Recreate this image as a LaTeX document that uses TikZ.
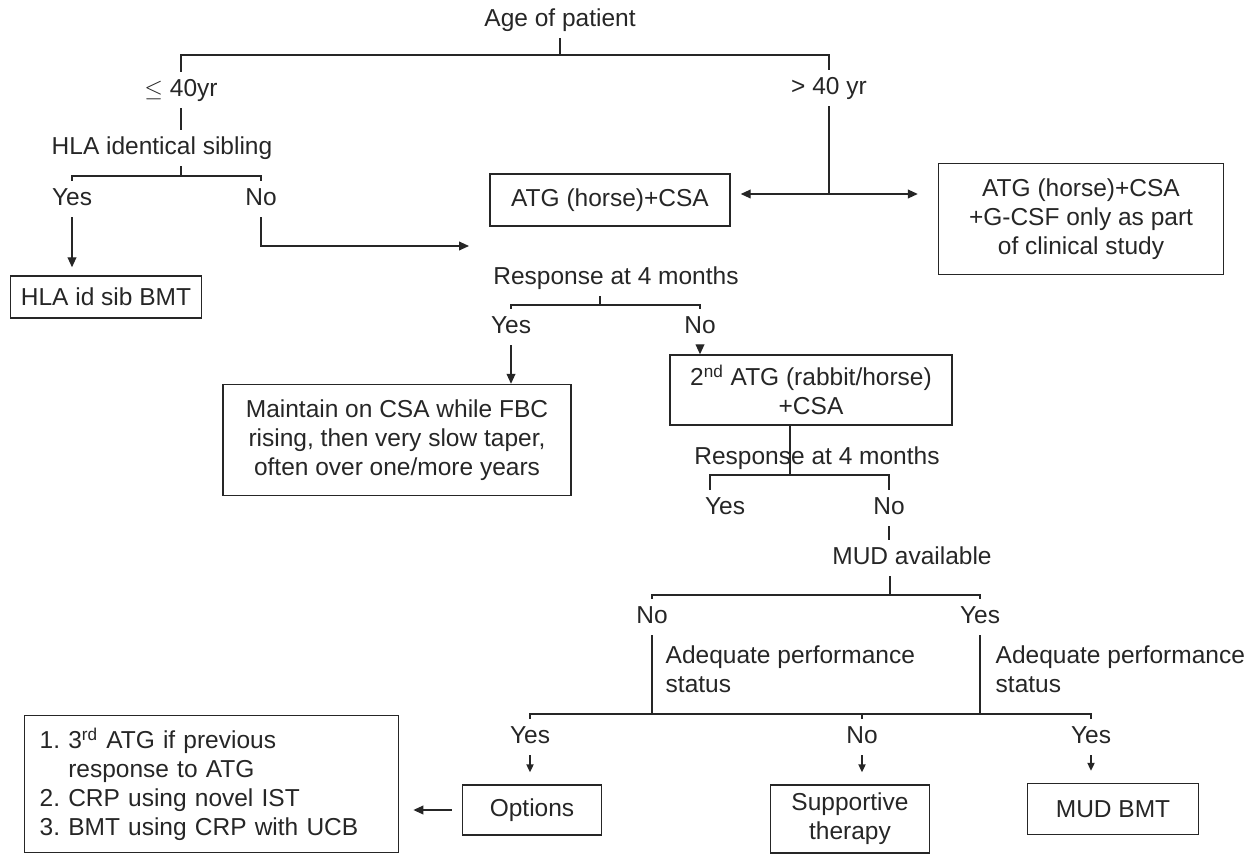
\documentclass[tikz,border=0pt]{standalone}
\usepackage{fontspec}
\setmainfont{Liberation Sans}
\usetikzlibrary{arrows.meta,calc}
\tikzset{
	lbl/.style={inner sep=3pt, text height=8.8pt, text depth=2.6pt},
	box/.style={draw, align=center, inner sep=2pt},
	arr/.style={-{Triangle[length=5pt,width=4.4pt]}},
	tick/.style={-{Triangle[length=4pt,width=3.6pt]}},
}

\begin{document}
\begin{tikzpicture}[x=0.5pt, y=-0.5pt, line width=0.7pt, color=black!85, font=\fontsize{12.25}{14.5}\selectfont]
			%%%%% START %%%%%
			\useasboundingbox (0,0) rectangle (1252,855);
			
			\node[lbl] (age) at (560,20) {Age of patient};
			\node[lbl] (le40) at (181,90) {$\leq$ 40yr};
			\node[lbl] (gt40) at (829,88) {> 40 yr};
			\coordinate (j1) at (560,55);
			\draw (age.south) -- (j1);
			\draw (le40.north) |- (j1) -| (gt40.north);
			
			\node[lbl] (hla) at (162,148) {HLA identical sibling};
			\draw (le40.south) -- (le40.south |- hla.north);
			\coordinate (j2) at (181,176);
			\node[lbl] (yes1) at (72,199) {Yes};
			\node[lbl] (no1) at (261,199) {No};
			\draw (hla.south -| j2) -- (j2);
			\draw (yes1.north) |- (j2) -| (no1.north);
			
			\node[box, minimum width=95.5pt, minimum height=21pt] (hlabmt) at (106,297) {HLA id sib BMT};
			\draw[arr, shorten >=4pt] (yes1.south) -- (yes1.south |- hlabmt.north);
			\coordinate (t1) at (469,246);
			\draw[arr] (no1.south) |- (t1);
			
			\node[box, minimum width=120pt, minimum height=26pt] (atg) at (610,200) {ATG (horse)+CSA};
			\node[box, minimum width=142.5pt, minimum height=55.5pt] (atggcsf) at (1081,219) {ATG (horse)+CSA\\+G-CSF only as part\\of clinical study};
			\coordinate (j3) at (829,194);
			\draw (gt40.south) -- (j3);
			\draw[arr, shorten >=5pt] (j3) -- (atg.east |- j3);
			\draw[arr, shorten >=10pt] (j3) -- (atggcsf.west |- j3);
			
			\node[lbl] (resp1) at (616,278) {Response at 4 months};
			\coordinate (j4) at (600,305);
			\node[lbl] (yes2) at (511,327) {Yes};
			\node[lbl] (no2) at (700,327) {No};
			\draw (resp1.south -| j4) -- (j4);
			\draw (yes2.north) |- (j4) -| (no2.north);
			
			\node[box, minimum width=174pt, minimum height=55.5pt] (maintain) at (397,440) {Maintain on CSA while FBC\\rising, then very slow taper,\\often over one/more years};
			\node[box, minimum width=141pt, minimum height=35pt] (atg2) at (811,390) {2\textsuperscript{nd} ATG (rabbit/horse)\\+CSA};
			\draw[arr] (yes2.south) -- (yes2.south |- maintain.north);
			\draw[arr] (no2.south) -- (no2.south |- atg2.north);
			
			\node[lbl] (resp2) at (817,458) {Response at 4 months};
			\coordinate (j5) at (790,475);
			\node[lbl] (yes3) at (725,508) {Yes};
			\node[lbl] (no3) at (889,508) {No};
			\draw (atg2.south -| j5) -- (j5);
			\draw ($(yes3.north)+(-15,0)$) |- (j5) -| (no3.north);
			
			\node[lbl] (mud) at (912,558) {MUD available};
			\draw (no3.south) -- (no3.south |- mud.north);
			\coordinate (j6) at (890,595);
			\node[lbl] (no4) at (652,617) {No};
			\node[lbl] (yes4) at (980,617) {Yes};
			\draw (mud.south -| j6) -- (j6);
			\draw (no4.north) |- (j6) -| (yes4.north);
			
			\node[align=left, anchor=north west, inner sep=0pt] (ade1) at (665,645) {Adequate performance\\status};
			\node[align=left, anchor=north west, inner sep=0pt] (ade2) at (995,645) {Adequate performance\\status};
			
			\coordinate (j7) at (652,714);
			\coordinate (j8) at (980,714);
			\node[lbl] (yes5) at (530,737) {Yes};
			\node[lbl] (no5) at (862,737) {No};
			\node[lbl] (yes6) at (1091,737) {Yes};
			\draw (no4.south) -- (j7);
			\draw (yes4.south) -- (j8);
			\draw (yes5.north) |- (j7) -- (j8) -| (yes6.north);
			\draw (no5.north) -- (no5.north |- j7);
			
			\node[box, minimum width=69.5pt, minimum height=25pt] (options) at (532,810) {Options};
			\node[box, minimum width=79.5pt, minimum height=34pt] (support) at (850,819) {Supportive\\therapy};
			\node[box, minimum width=85.5pt, minimum height=25.5pt] (mudbmt) at (1113,809) {MUD BMT};
			\draw[tick, shorten >=6pt] (yes5.south) -- (yes5.south |- options.north);
			\draw[tick, shorten >=6pt] (no5.south) -- (no5.south |- support.north);
			\draw[tick, shorten >=6pt] (yes6.south) -- (yes6.south |- mudbmt.north);
			
			\node[box, align=left, anchor=north west, text width=172pt, minimum height=68.5pt, inner xsep=7.5pt, inner ysep=4pt] (optlist) at (24,715) {1.\ 3\textsuperscript{rd} ATG if previous\\\phantom{1.\ }response to ATG\\2.\ CRP using novel IST\\3.\ BMT using CRP with UCB};
			\draw[arr, shorten <=5pt, shorten >=7pt] (options.west) -- (options.west -| optlist.east);
			
			%%%%% END %%%%%
\end{tikzpicture}
\end{document}
